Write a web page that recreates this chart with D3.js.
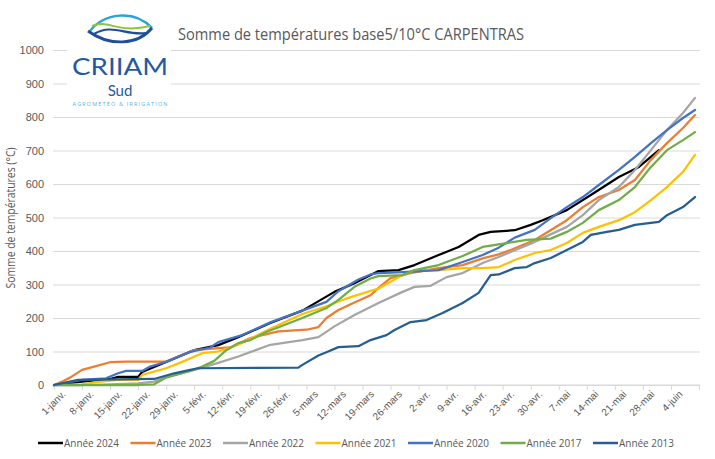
<!DOCTYPE html>
<html>
<head>
<meta charset="utf-8">
<script src="https://cdn.jsdelivr.net/npm/d3@7"></script>
<style>
  body { margin: 0; background: #fff; }
  svg { display: block; font-family: "Open Sans", sans-serif; }
</style>
</head>
<body>
<script>
// jours depuis le 1er janvier, somme de temperatures (°C)
var annee2024 = [[0,0],[7,10],[14,18],[16,24],[21,24],[22,39],[28,69],[35,104],[41,119],[46,143],[54,185],[62,222],[70,278],[75,304],[81,340],[86,343],[90,358],[96,388],[101,412],[106,448],[109,457],[115,462],[119,478],[122,492],[128,522],[134,567],[141,621],[146,651],[151,701]];
var annee2023 = [[0,0],[2,10],[4,22],[7,45],[10,55],[14,68],[18,70],[28,70],[31,85],[35,104],[41,110],[44,112],[49,140],[56,160],[63,165],[66,173],[68,200],[71,224],[75,246],[79,268],[81,290],[84,319],[89,334],[96,349],[102,358],[107,378],[111,390],[114,403],[120,433],[128,492],[132,531],[136,561],[141,582],[145,612],[149,672],[153,722],[157,767],[160,806]];
var annee2022 = [[0,0],[7,0],[14,2],[21,5],[25,10],[28,24],[35,45],[41,66],[46,85],[54,120],[62,134],[66,143],[70,175],[75,209],[81,245],[87,278],[90,293],[94,296],[98,322],[102,334],[107,364],[111,382],[119,422],[128,472],[132,507],[136,552],[141,591],[145,642],[149,701],[153,761],[157,812],[160,857]];
var annee2021 = [[0,0],[7,2],[11,9],[16,15],[21,15],[22,30],[28,50],[32,69],[37,95],[41,100],[46,120],[54,168],[62,212],[68,235],[73,258],[75,266],[81,288],[87,328],[90,343],[96,343],[102,349],[107,349],[111,352],[115,373],[120,394],[124,403],[128,424],[132,454],[136,472],[141,492],[145,516],[149,552],[153,591],[157,636],[160,687]];
var annee2020 = [[0,0],[7,15],[13,20],[16,35],[18,42],[22,42],[24,55],[28,69],[34,99],[39,112],[41,128],[47,149],[54,187],[62,222],[68,248],[71,280],[76,315],[79,330],[81,334],[87,337],[96,343],[102,367],[107,388],[111,410],[115,440],[120,463],[124,498],[128,531],[132,561],[136,597],[141,642],[145,681],[149,722],[153,761],[157,797],[160,821]];
var annee2017 = [[0,0],[21,0],[25,2],[28,22],[34,42],[37,55],[40,72],[43,104],[46,125],[49,134],[53,158],[62,200],[68,230],[71,254],[75,293],[79,318],[81,325],[87,328],[90,343],[96,358],[102,385],[107,412],[111,420],[118,433],[124,437],[128,457],[132,484],[136,522],[141,552],[145,591],[149,651],[153,701],[157,731],[160,755]];
var annee2013 = [[0,0],[6,15],[25,18],[30,35],[34,45],[36,50],[61,52],[62,60],[66,88],[68,98],[71,113],[76,116],[79,134],[83,149],[85,164],[89,188],[93,194],[97,215],[102,245],[106,275],[109,328],[111,330],[115,349],[118,352],[120,364],[124,379],[128,403],[132,427],[134,448],[138,457],[141,463],[145,478],[149,484],[151,487],[153,507],[157,531],[160,561]];

var nomsSeries = ["Année 2024", "Année 2023", "Année 2022", "Année 2021", "Année 2020", "Année 2017", "Année 2013"];
var etiquettesX = ["1-janv.", "8-janv.", "15-janv.", "22-janv.", "29-janv.", "5-févr.", "12-févr.", "19-févr.", "26-févr.", "5-mars", "12-mars", "19-mars", "26-mars", "2-avr.", "9-avr.", "16-avr.", "23-avr.", "30-avr.", "7-mai", "14-mai", "21-mai", "28-mai", "4-juin"];
var ticksY = [0, 100, 200, 300, 400, 500, 600, 700, 800, 900, 1000];

var series = [annee2024, annee2023, annee2022, annee2021, annee2020, annee2017, annee2013];
var couleurs = ["#000000", "#ed7d31", "#a5a5a5", "#ffc000", "#4472c4", "#70ad47", "#255e91"];

var width = 715, height = 459;
var texte = "#595959", grille = "#d9d9d9";

var svg = d3.select("body").append("svg")
	.attr("width", width)
	.attr("height", height);

svg.append("rect").attr("width", width).attr("height", height).attr("fill", "#fff");

var x = d3.scaleLinear().domain([0, 161]).range([54, 699]);
var y = d3.scaleLinear().domain([0, 1000]).range([385, 50]);

// grille + axe Y
var axeY = svg.append("g")
	.attr("transform", "translate(53,0)")
	.style("color", texte)
	.call(d3.axisLeft(y).tickValues(ticksY).tickSize(-647).tickPadding(9).tickFormat(d3.format("d")));
axeY.select(".domain").remove();
axeY.selectAll(".tick line").attr("stroke", grille);
axeY.selectAll(".tick text").attr("fill", texte).style("font-size", "11px");

// axe X
var joursTicks = d3.range(0, 162, 7);
var axeX = svg.append("g")
	.attr("transform", "translate(0,385)")
	.style("color", texte)
	.call(d3.axisBottom(x).tickValues(joursTicks).tickSize(5)
		.tickFormat(function(d, i) { return etiquettesX[i] || ""; }));
axeX.select(".domain").attr("stroke", grille).attr("d", "M53,0H700");
axeX.selectAll(".tick line").attr("stroke", grille);
axeX.selectAll(".tick text")
	.attr("fill", texte)
	.style("font-size", "10px")
	.attr("text-anchor", "end")
	.attr("transform", "translate(4,2) rotate(-45)")
	.attr("dy", "0.5em")
	.attr("y", 6);

// courbes
var ligne = d3.line()
	.x(function(d) { return x(d[0]); })
	.y(function(d) { return y(d[1]); });

svg.append("g").selectAll("path")
	.data(series)
	.enter().append("path")
	.attr("d", ligne)
	.attr("fill", "none")
	.attr("stroke", function(d, i) { return couleurs[i]; })
	.attr("stroke-width", 2.25)
	.attr("stroke-linejoin", "round")
	.attr("stroke-linecap", "round");

// logo CRIIAM Sud (fond blanc sur la grille)
var logo = svg.append("g");
logo.append("rect").attr("x", 67).attr("y", 10).attr("width", 104).attr("height", 98).attr("fill", "#fff");
logo.append("path").attr("d", "M90,31 C104,13 134,9 152,28").attr("fill", "none").attr("stroke", "#29a3d6").attr("stroke-width", 2.5);
logo.append("path").attr("d", "M88,31 C110,47 138,45 152,28").attr("fill", "none").attr("stroke", "#1d4f9c").attr("stroke-width", 2.8);
logo.append("path").attr("d", "M92,26 C108,19 118,34 150,26").attr("fill", "none").attr("stroke", "#8cc63f").attr("stroke-width", 2);
logo.append("path").attr("d", "M94,34 C112,23 126,36 146,33").attr("fill", "none").attr("stroke", "#1d4f9c").attr("stroke-width", 2.2);
logo.append("text").attr("x", 120).attr("y", 75).attr("text-anchor", "middle")
	.attr("fill", "#1f5aa6").style("font-size", "24px").style("font-family", "Lato, sans-serif")
	.attr("textLength", 96).attr("lengthAdjust", "spacingAndGlyphs").text("CRIIAM");
logo.append("text").attr("x", 120).attr("y", 96).attr("text-anchor", "middle")
	.attr("fill", "#1f5aa6").style("font-size", "15px").style("font-family", "Lato, sans-serif").text("Sud");
logo.append("text").attr("x", 120).attr("y", 106).attr("text-anchor", "middle")
	.attr("fill", "#5bb2e0").style("font-size", "5.5px").attr("textLength", 95).attr("lengthAdjust", "spacing")
	.text("AGROMÉTÉO & IRRIGATION");

// titre
svg.append("text")
	.attr("x", 178).attr("y", 40)
	.attr("fill", texte)
	.style("font-size", "16px")
	.attr("textLength", 346).attr("lengthAdjust", "spacingAndGlyphs")
	.text("Somme de températures base5/10°C CARPENTRAS");

// titre axe Y
svg.append("text")
	.attr("transform", "translate(15,218) rotate(-90)")
	.attr("text-anchor", "middle")
	.attr("fill", texte)
	.style("font-size", "12px")
	.attr("textLength", 141).attr("lengthAdjust", "spacingAndGlyphs")
	.text("Somme de températures (°C)");

// legende
var legende = svg.append("g").selectAll("g")
	.data(nomsSeries)
	.enter().append("g")
	.attr("transform", function(d, i) { return "translate(" + (38 + i * 92.5) + ",443)"; });

legende.append("line")
	.attr("x1", 0).attr("x2", 25)
	.attr("stroke", function(d, i) { return couleurs[i]; })
	.attr("stroke-width", 2.5);

legende.append("text")
	.attr("x", 26).attr("dy", "0.35em")
	.attr("fill", texte)
	.style("font-size", "11.5px")
	.attr("textLength", 55).attr("lengthAdjust", "spacingAndGlyphs")
	.text(function(d) { return d; });
</script>
</body>
</html>
